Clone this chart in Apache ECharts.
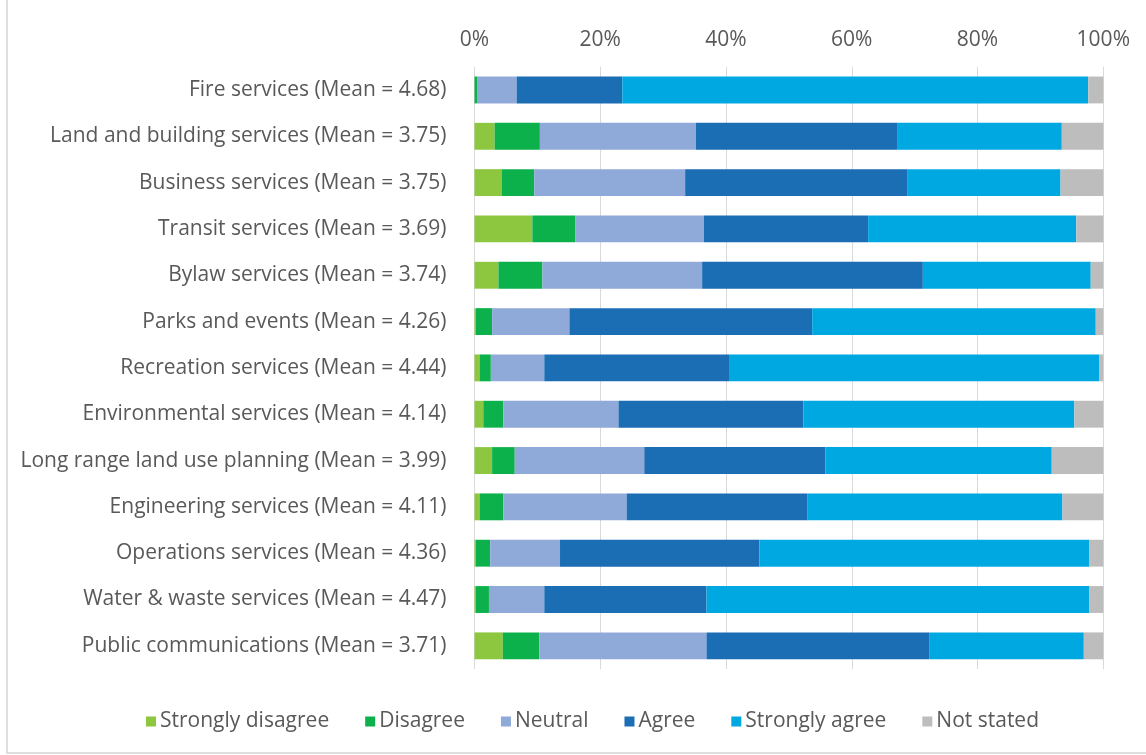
<!DOCTYPE html>
<html>
<head>
<meta charset="utf-8">
<title>Service satisfaction</title>
<script src="https://cdn.jsdelivr.net/npm/echarts@6/dist/echarts.min.js"></script>
<style>
  html, body { margin: 0; padding: 0; background: #ffffff; }
  #chart { width: 1146px; height: 755px; }
</style>
</head>
<body>
<div id="chart"></div>
<script>
// Services, top to bottom
const categories = [
  'Fire services (Mean = 4.68)',
  'Land and building services (Mean = 3.75)',
  'Business services (Mean = 3.75)',
  'Transit services (Mean = 3.69)',
  'Bylaw services (Mean = 3.74)',
  'Parks and events (Mean = 4.26)',
  'Recreation services (Mean = 4.44)',
  'Environmental services (Mean = 4.14)',
  'Long range land use planning (Mean = 3.99)',
  'Engineering services (Mean = 4.11)',
  'Operations services (Mean = 4.36)',
  'Water & waste services (Mean = 4.47)',
  'Public communications (Mean = 3.71)'
];

// Response shares (%) per service
const stronglyDisagree = [0.0, 3.2, 4.3, 9.2, 3.8, 0.2, 0.8, 1.4, 2.8, 0.8, 0.2, 0.2, 4.5];
const disagree         = [0.4, 7.2, 5.2, 6.8, 7.0, 2.6, 1.8, 3.2, 3.6, 3.8, 2.3, 2.1, 5.8];
const neutral          = [6.3, 24.8, 24.0, 20.5, 25.4, 12.3, 8.5, 18.3, 20.6, 19.6, 11.1, 8.8, 26.6];
const agree            = [16.8, 32.0, 35.3, 26.1, 35.1, 38.6, 29.5, 29.4, 28.8, 28.7, 31.7, 25.8, 35.4];
const stronglyAgree    = [74.1, 26.2, 24.4, 33.1, 26.7, 45.1, 58.8, 43.1, 36.0, 40.6, 52.5, 60.9, 24.6];
const notStated        = [2.4, 6.6, 6.8, 4.3, 2.0, 1.2, 0.6, 4.6, 8.2, 6.5, 2.2, 2.2, 3.1];

const axisTicks = [0, 20, 40, 60, 80, 100];

const seriesDefs = [
  { name: 'Strongly disagree', data: stronglyDisagree, color: '#8dc63f' },
  { name: 'Disagree',          data: disagree,         color: '#0db14b' },
  { name: 'Neutral',           data: neutral,          color: '#8fa9d9' },
  { name: 'Agree',             data: agree,            color: '#1b6db4' },
  { name: 'Strongly agree',    data: stronglyAgree,    color: '#00a8e2' },
  { name: 'Not stated',        data: notStated,        color: '#bdbdbd' }
];

const FONT = 'Open Sans';
const TEXT = '#595959';
const FS = 21;

const chart = echarts.init(document.getElementById('chart'), null, { renderer: 'canvas' });

chart.setOption({
  backgroundColor: '#ffffff',
  animation: false,
  textStyle: { fontFamily: FONT, color: TEXT },
  graphic: [{
    type: 'rect',
    shape: { x: 7, y: -10, width: 1200, height: 763 },
    style: { fill: 'none', stroke: '#d4d4d4', lineWidth: 1.5 },
    silent: true
  }],
  legend: {
    left: 141,
    top: 706,
    itemWidth: 10,
    itemHeight: 10,
    itemGap: 36,
    icon: 'rect',
    textStyle: { fontFamily: FONT, fontSize: FS, color: TEXT, padding: [0, 0, 0, -1] },
    data: seriesDefs.map(s => s.name)
  },
  grid: { left: 474.5, right: 42.7, top: 66.8, bottom: 86, containLabel: false },
  xAxis: {
    type: 'value',
    position: 'top',
    min: 0,
    max: 100,
    interval: 20,
    axisLine: { show: false },
    axisTick: { show: false },
    splitLine: { show: true, lineStyle: { color: '#d9d9d9', width: 1 } },
    axisLabel: {
      fontFamily: FONT,
      fontSize: FS,
      color: TEXT,
      margin: 16,
      formatter: v => (axisTicks.includes(v) ? v + '%' : '')
    }
  },
  yAxis: {
    type: 'category',
    inverse: true,
    data: categories,
    axisLine: { show: false },
    axisTick: { show: false },
    splitLine: { show: false },
    axisLabel: { fontFamily: FONT, fontSize: FS, color: TEXT, margin: 28 }
  },
  series: seriesDefs.map(s => ({
    name: s.name,
    type: 'bar',
    stack: 'total',
    barWidth: '58%',
    itemStyle: { color: s.color },
    data: s.data
  }))
});
</script>
</body>
</html>
